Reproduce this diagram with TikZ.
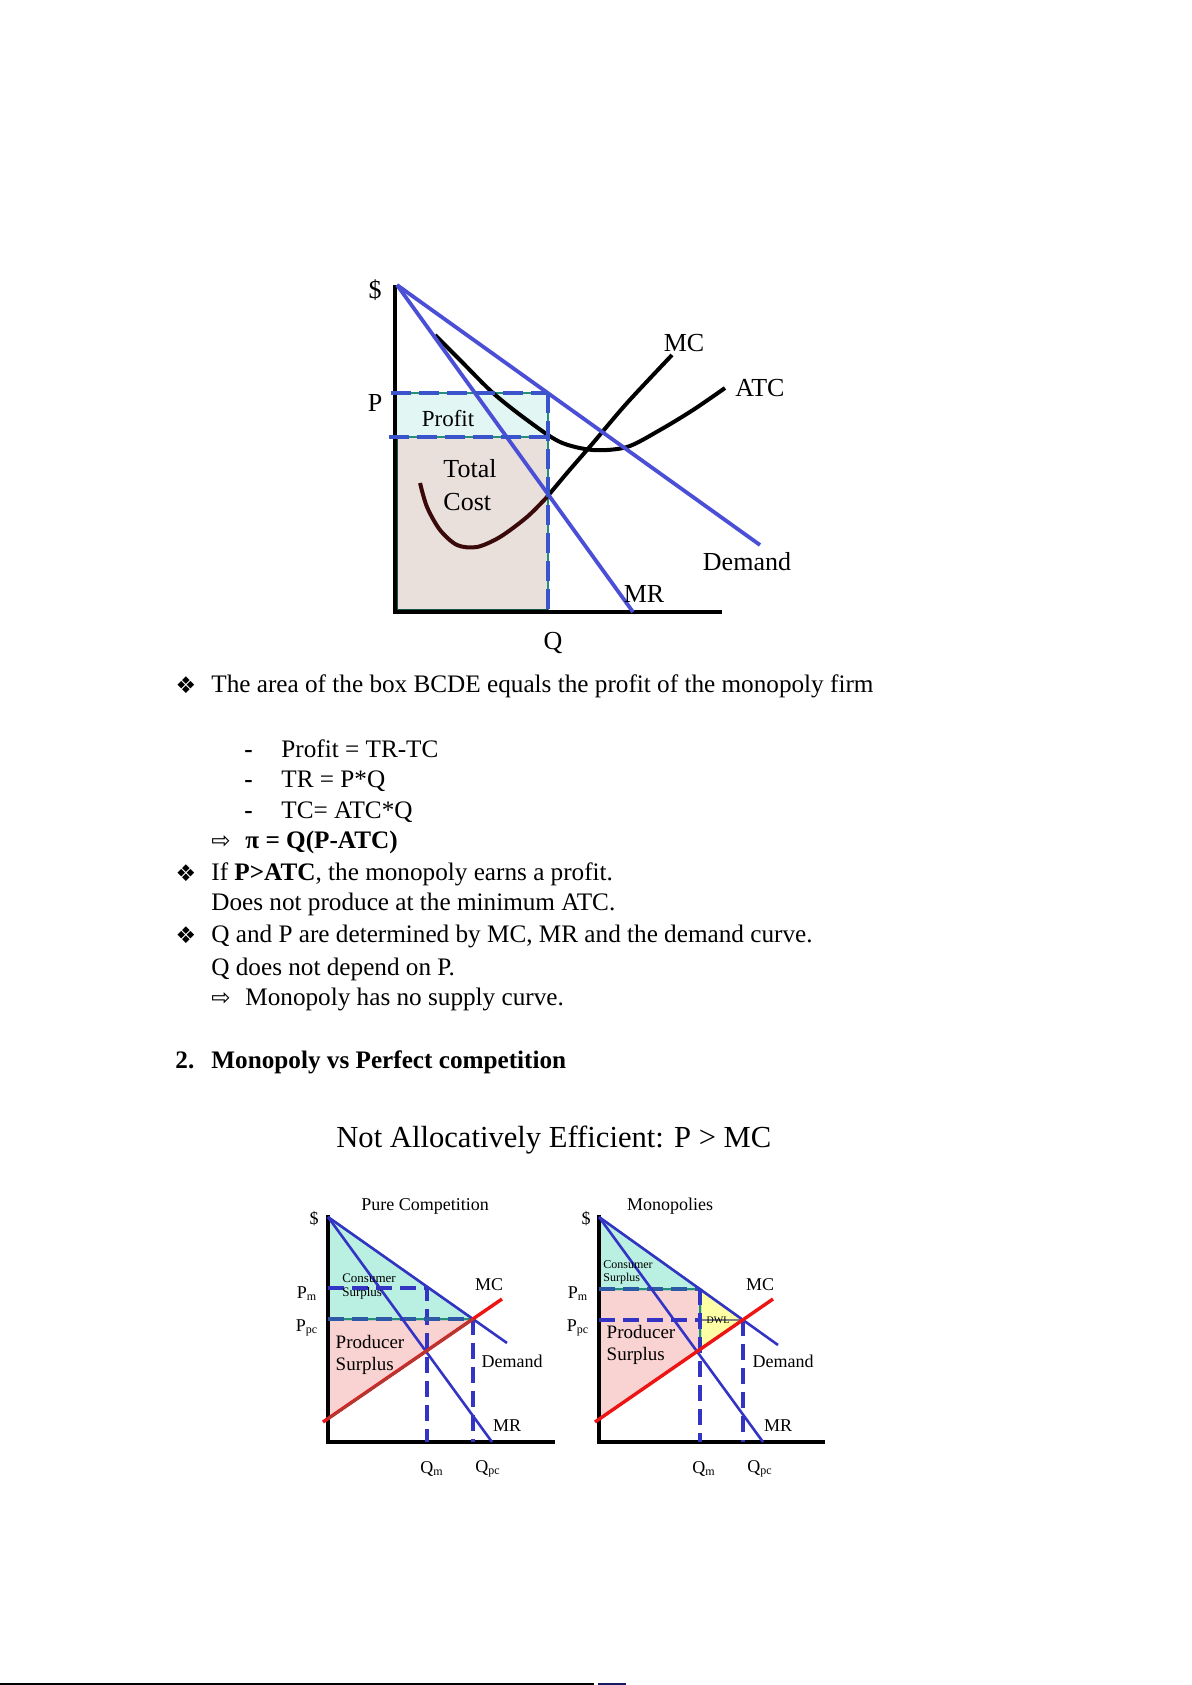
\documentclass[tikz,border=0pt]{standalone}
\usepackage{fontspec}
\setmainfont{Liberation Serif}
\newfontfamily\symfont{DejaVu Sans}
\usetikzlibrary{positioning}

\definecolor{lineblue}{HTML}{4B4FD6}
\definecolor{dashblue}{HTML}{3A55CC}
\definecolor{darkblue}{HTML}{3434C4}
\definecolor{tealline}{HTML}{23907A}
\definecolor{profitfill}{HTML}{E2F7F4}
\definecolor{costfill}{HTML}{E9E0DC}
\definecolor{csfill}{HTML}{B9F0E2}
\definecolor{psfill}{HTML}{F9D2D2}
\definecolor{dwlfill}{HTML}{FFFFA6}
\definecolor{mcred}{HTML}{EE1414}
\definecolor{mcbrown}{HTML}{3A0A0A}

\begin{document}
\begin{tikzpicture}[x=0.5pt, y=-0.5pt,
    txt/.style={anchor=base west, inner sep=0pt, font=\fontsize{12.6}{14}\selectfont},
    sym/.style={inner sep=0pt, font=\symfont\fontsize{11.5}{12}\selectfont},
    lbl/.style={inner sep=0pt, font=\fontsize{13}{15}\selectfont},
    slbl/.style={inner sep=0pt, font=\fontsize{9}{10}\selectfont},
    tiny/.style={inner sep=0pt, font=\fontsize{6.5}{7}\selectfont},
    axis/.style={line width=2.4pt, black, line cap=rect},
    bline/.style={line width=1.9pt, lineblue},
    sline/.style={line width=1.3pt, darkblue},
    redline/.style={line width=1.7pt, mcred},
    dline/.style={line width=1.9pt, dashblue, dash pattern=on 10pt off 4pt},
    sdash/.style={line width=1.9pt, darkblue, dash pattern=on 8pt off 4pt},
    box/.style={draw=tealline, line width=0.6pt}
]
\useasboundingbox[fill=white] (0,0) rectangle (1191,1685);

% Monopoly profit chart
\coordinate (o) at (395,612);
\coordinate (ytop) at (395,287);
\coordinate (xend) at (720,612);
\coordinate (dtop) at (397,285);
\coordinate (dend) at (760,545);
\coordinate (mrend) at (633,612);
\coordinate (pq) at (548,393);
\coordinate (atcq) at (548,437);
\coordinate (q) at (548,612);

\fill[profitfill] (395,393) rectangle (atcq);
\fill[costfill] (395,437) rectangle (q);
\draw[box] (395,393) rectangle (atcq);
\draw[box] (395,437) rectangle (q);
\draw[tealline!60!black, line width=1.2pt] (397,437) -- (397,610) -- (548,610);

\draw[axis] (ytop) -- (o) -- (xend);

\draw[line width=2pt, black] plot[smooth] coordinates {(435,335) (460,360) (493,393) (527,420) (560,442) (593,450) (627,447) (660,430) (693,410) (725,388)};
\draw[line width=2pt, mcbrown] plot[smooth] coordinates {(420,483) (427,507) (440,530) (457,545) (477,547) (500,537) (527,517) (547,497)};
\draw[line width=2pt, black] plot[smooth] coordinates {(547,497) (567,473) (593,443) (627,403) (672,355)};

\draw[bline] (dtop) -- (dend);
\draw[bline] (dtop) -- (mrend);

\draw[dline] (391,393) -- (pq);
\draw[dline] (389,437) -- (atcq);
\draw[dline] (pq) -- (q);

\node[lbl] (dollar) at (375,290) {\$};
\node[lbl] (plbl) at (375,403) {P};
\node[lbl] (qlbl) at (553,643) {Q};
\node[inner sep=0pt, font=\fontsize{11.5}{13}\selectfont] (profit) at (448,419) {Profit};
\node[inner sep=0pt, font=\fontsize{13}{16.5}\selectfont, align=left] (tc) at (470,485) {Total\\Cost};
\node[lbl] (mclbl) at (684,343) {MC};
\node[lbl] (atclbl) at (760,388) {ATC};
\node[lbl] (demlbl) at (747,562) {Demand};
\node[lbl] (mrlbl) at (644,594) {MR};

% Text
\node[sym] (b1) at (186,685) {❖};
\node[txt] (t1) at (211,692) {The area of the box BCDE equals the profit of the monopoly firm};
\node[txt] (d1) at (244,757) {\textbf{-}};
\node[txt] (t2) at (281,757) {Profit = TR-TC};
\node[txt] (d2) at (244,787) {\textbf{-}};
\node[txt] (t3) at (281,787) {TR = P*Q};
\node[txt] (d3) at (244,818) {\textbf{-}};
\node[txt] (t4) at (281,818) {TC= ATC*Q};
\node[sym] (a1) at (221,842) {⇨};
\node[txt] (t5) at (245,848) {\textbf{π = Q(P-ATC)}};
\node[sym] (b2) at (186,873) {❖};
\node[txt] (t6) at (211,880) {If \textbf{P>ATC}, the monopoly earns a profit.};
\node[txt] (t7) at (211,910) {Does not produce at the minimum ATC.};
\node[sym] (b3) at (186,935) {❖};
\node[txt] (t8) at (211,942) {Q and P are determined by MC, MR and the demand curve.};
\node[txt] (t9) at (211,975) {Q does not depend on P.};
\node[sym] (a2) at (221,999) {⇨};
\node[txt] (t10) at (245,1005) {Monopoly has no supply curve.};
\node[txt] (h2) at (175,1068) {\textbf{2.}};
\node[txt] (h2t) at (211,1068) {\textbf{Monopoly vs Perfect competition}};

% Title
\node[anchor=base west, inner sep=0pt, font=\fontsize{15.3}{17}\selectfont] (title) at (336,1147) {Not Allocatively Efficient: P > MC};

% Pure competition
\fill[csfill] (328,1217) -- (473,1319) -- (328,1319) -- cycle;
\fill[psfill] (328,1319) -- (473,1319) -- (328,1419) -- cycle;
\draw[box, line width=1pt] (328,1217) -- (473,1319) -- (328,1319) -- cycle;
\draw[box, line width=1pt] (328,1319) -- (473,1319) -- (328,1419) -- cycle;
\draw[axis, line width=2.2pt] (328,1217) -- (328,1442) -- (553,1442);
\draw[sdash] (328,1288) -- (427,1288) -- (427,1442);
\draw[sdash] (473,1319) -- (473,1442);
\draw[sdash, darkblue!60!tealline] (328,1319) -- (473,1319);
\draw[sline] (328,1217) -- (507,1343);
\draw[sline] (328,1217) -- (492,1442);
\draw[redline] (323,1422) -- (502,1299);
\draw[line width=1pt, mcred!65!tealline] (328,1419) -- (473,1319);

\node[slbl] (pctitle) at (425,1206) {Pure Competition};
\node[slbl] (pcdollar) at (314,1219) {\$};
\node[slbl] (pcpm) at (307,1294) {P\textsubscript{m}};
\node[slbl] (pcppc) at (307,1328) {P\textsubscript{pc}};
\node[tiny, align=left] (pccs) at (369,1287) {Consumer\\Surplus};
\node[slbl, font=\fontsize{9.5}{11}\selectfont, align=left] (pcps) at (370,1355) {Producer\\Surplus};
\node[slbl] (pcmc) at (489,1285) {MC};
\node[slbl] (pcdem) at (512,1361) {Demand};
\node[slbl] (pcmr) at (507,1426) {MR};
\node[slbl] (pcqm) at (432,1469) {Q\textsubscript{m}};
\node[slbl] (pcqpc) at (488,1469) {Q\textsubscript{pc}};

% Monopolies
\fill[csfill] (599,1217) -- (700,1289) -- (599,1289) -- cycle;
\fill[psfill] (599,1289) -- (700,1289) -- (700,1349) -- (599,1419) -- cycle;
\fill[dwlfill] (700,1289) -- (743,1320) -- (700,1349) -- cycle;
\draw[box, line width=1pt] (599,1217) -- (700,1289) -- (599,1289) -- cycle;
\draw[box, line width=1pt] (599,1289) -- (700,1289) -- (700,1349) -- (599,1419) -- cycle;
\draw[box, line width=1pt] (700,1289) -- (743,1320) -- (700,1349) -- cycle;
\draw[axis, line width=2.2pt] (599,1217) -- (599,1442) -- (823,1442);
\draw[sdash, darkblue!60!tealline] (599,1289) -- (700,1289);
\draw[sdash] (599,1320) -- (700,1320);
\draw[line width=1.2pt, black!50] (700,1320) -- (743,1320);
\draw[sdash] (700,1289) -- (700,1442);
\draw[sdash] (743,1320) -- (743,1442);
\draw[sline] (599,1217) -- (778,1345);
\draw[sline] (599,1217) -- (763,1442);
\draw[redline] (595,1422) -- (773,1299);

\node[slbl] (mptitle) at (670,1206) {Monopolies};
\node[slbl] (mpdollar) at (586,1219) {\$};
\node[slbl] (mppm) at (578,1294) {P\textsubscript{m}};
\node[slbl] (mpppc) at (578,1328) {P\textsubscript{pc}};
\node[tiny, font=\fontsize{6}{6.5}\selectfont, align=left] (mpcs) at (628,1272) {Consumer\\Surplus};
\node[slbl, font=\fontsize{9.5}{11}\selectfont, align=left] (mpps) at (641,1345) {Producer\\Surplus};
\node[tiny, font=\fontsize{5}{6}\selectfont] (dwl) at (718,1320) {DWL};
\node[slbl] (mpmc) at (760,1285) {MC};
\node[slbl] (mpdem) at (783,1361) {Demand};
\node[slbl] (mpmr) at (778,1426) {MR};
\node[slbl] (mpqm) at (704,1469) {Q\textsubscript{m}};
\node[slbl] (mpqpc) at (760,1469) {Q\textsubscript{pc}};

% Page rule
\draw[line width=0.8pt] (0,1684) -- (594,1684);
\draw[line width=0.8pt, darkblue!50!black] (598,1684) -- (626,1684);
\end{tikzpicture}
\end{document}
